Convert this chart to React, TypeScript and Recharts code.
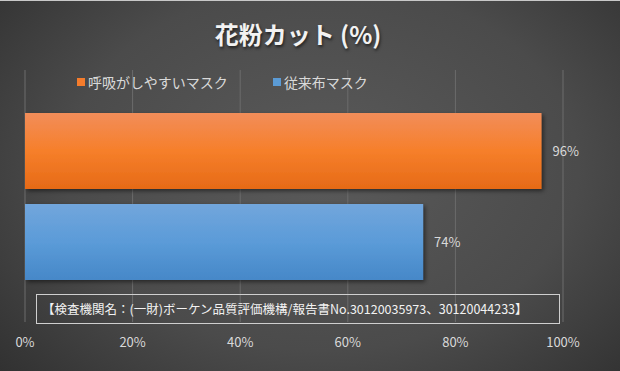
import React from 'react';
import { BarChart, Bar, XAxis, YAxis, CartesianGrid, Legend, LabelList } from 'recharts';

// Data
const category = '花粉カット';
const seriesNames = ['呼吸がしやすいマスク', '従来布マスク'];
const seriesValues = [96, 74];
const xTicks = [0, 20, 40, 60, 80, 100];

const seriesKeys = ['easy', 'cloth'];
const seriesColors = ['#f47c2c', '#5b9bd5'];
const gradientStops = [
  ['#f28d5a', '#f67f2a', '#e66a17'],
  ['#72a6dc', '#5b9bd8', '#4688c8'],
];

const chartData = [
  seriesKeys.reduce(
    (row, key, i) => ({ ...row, [key]: seriesValues[i] }),
    { name: category } as Record<string, string | number>
  ),
];

const FONT = '"Noto Sans CJK JP", "Noto Sans", sans-serif';

const renderLegend = () => (
  <div style={{ display: 'flex', fontFamily: FONT, fontSize: 14, color: '#d9d9d9' }}>
    {seriesNames.map((name, i) => (
      <div key={name} style={{ display: 'flex', alignItems: 'center', marginRight: i === 0 ? 45 : 0 }}>
        <span style={{ width: 8, height: 8, background: seriesColors[i], marginRight: 3, display: 'inline-block' }} />
        <span>{name}</span>
      </div>
    ))}
  </div>
);

export default function App() {
  return (
    <div
      style={{
        position: 'absolute',
        top: 0,
        left: 0,
        width: 620,
        height: 371,
        boxSizing: 'border-box',
        borderTop: '1px solid #c8c8c8',
        background: 'radial-gradient(ellipse 75% 90% at 52% 45%, #5a5a5a 0%, #4b4b4b 55%, #2c2c2c 100%)',
        fontFamily: FONT,
        overflow: 'hidden',
      }}
    >
      <div
        style={{
          position: 'absolute',
          top: 15,
          left: 0,
          width: 596,
          textAlign: 'center',
          fontSize: 24,
          fontWeight: 'bold',
          color: '#f2f2f2',
          textShadow: '1px 2px 3px rgba(0,0,0,0.6)',
        }}
      >
        花粉カット (%)
      </div>
      <BarChart
        width={620}
        height={371}
        data={chartData}
        layout="vertical"
        margin={{ top: 69, right: 57, bottom: 20, left: 25 }}
        barGap={15}
        barSize={76}
      >
        <defs>
          {gradientStops.map((stops, i) => (
            <linearGradient key={i} id={`grad-${i}`} x1="0" y1="0" x2="0" y2="1">
              <stop offset="0%" stopColor={stops[0]} />
              <stop offset="50%" stopColor={stops[1]} />
              <stop offset="100%" stopColor={stops[2]} />
            </linearGradient>
          ))}
          <filter id="shadow" x="-5%" y="-20%" width="115%" height="150%">
            <feDropShadow dx="2" dy="2" stdDeviation="2" floodColor="#000" floodOpacity="0.5" />
          </filter>
        </defs>
        <CartesianGrid horizontal={false} stroke="#6c6c6c" />
        <XAxis
          type="number"
          domain={[0, 100]}
          ticks={xTicks}
          tickFormatter={(v) => `${v}%`}
          axisLine={false}
          tickLine={false}
          tickMargin={10}
          tick={{ fill: '#d9d9d9', fontSize: 13, fontFamily: FONT }}
        />
        <YAxis type="category" dataKey="name" hide />
        <Legend
          layout="horizontal"
          verticalAlign="middle"
          align="center"
          content={renderLegend}
          wrapperStyle={{ top: 71, left: 77, width: 'auto' }}
        />
        {seriesKeys.map((key, i) => (
          <Bar
            key={key}
            dataKey={key}
            name={seriesNames[i]}
            fill={`url(#grad-${i})`}
            filter="url(#shadow)"
            isAnimationActive={false}
          >
            <LabelList
              dataKey={key}
              position="right"
              offset={11}
              formatter={(v: number) => `${v}%`}
              fill="#d9d9d9"
              fontSize={13}
              fontFamily={FONT}
            />
          </Bar>
        ))}
      </BarChart>
      <div
        style={{
          position: 'absolute',
          left: 36,
          top: 293,
          width: 524,
          height: 30,
          boxSizing: 'border-box',
          border: '1px solid #cfcfcf',
          color: '#f2f2f2',
          fontSize: 12.5,
          lineHeight: '28px',
          paddingLeft: 5,
          whiteSpace: 'nowrap',
        }}
      >
        【検査機関名：(一財)ボーケン品質評価機構/報告書No.30120035973、30120044233】
      </div>
    </div>
  );
}
